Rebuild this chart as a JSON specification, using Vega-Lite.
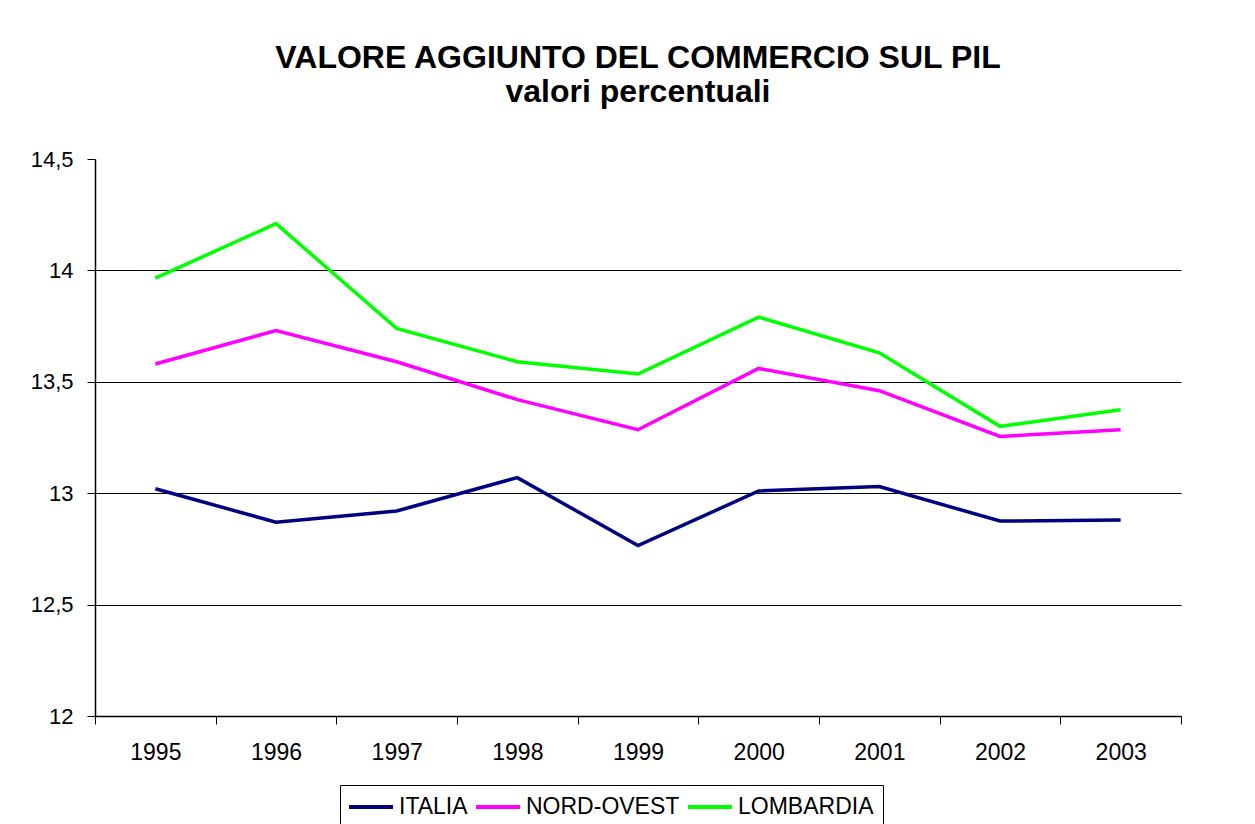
{
  "$schema": "https://vega.github.io/schema/vega-lite/v6.json",
  "width": 1086,
  "height": 557,
  "autosize": {"type": "none"},
  "padding": {"left": 95, "top": 159, "right": 74, "bottom": 108},
  "background": "white",
  "title": {
    "text": ["VALORE AGGIUNTO DEL COMMERCIO SUL PIL", "valori percentuali"],
    "font": "Liberation Sans",
    "fontSize": 32,
    "fontWeight": "bold",
    "color": "black",
    "anchor": "middle",
    "lineHeight": 34,
    "offset": 39
  },
  "data": {
    "values": [
      {"anno": "1995", "serie": "ITALIA", "valore": 13.02},
      {"anno": "1996", "serie": "ITALIA", "valore": 12.87},
      {"anno": "1997", "serie": "ITALIA", "valore": 12.92},
      {"anno": "1998", "serie": "ITALIA", "valore": 13.07},
      {"anno": "1999", "serie": "ITALIA", "valore": 12.765},
      {"anno": "2000", "serie": "ITALIA", "valore": 13.01},
      {"anno": "2001", "serie": "ITALIA", "valore": 13.03},
      {"anno": "2002", "serie": "ITALIA", "valore": 12.875},
      {"anno": "2003", "serie": "ITALIA", "valore": 12.88},
      {"anno": "1995", "serie": "NORD-OVEST", "valore": 13.58},
      {"anno": "1996", "serie": "NORD-OVEST", "valore": 13.73},
      {"anno": "1997", "serie": "NORD-OVEST", "valore": 13.59},
      {"anno": "1998", "serie": "NORD-OVEST", "valore": 13.42},
      {"anno": "1999", "serie": "NORD-OVEST", "valore": 13.285},
      {"anno": "2000", "serie": "NORD-OVEST", "valore": 13.56},
      {"anno": "2001", "serie": "NORD-OVEST", "valore": 13.46},
      {"anno": "2002", "serie": "NORD-OVEST", "valore": 13.255},
      {"anno": "2003", "serie": "NORD-OVEST", "valore": 13.285},
      {"anno": "1995", "serie": "LOMBARDIA", "valore": 13.965},
      {"anno": "1996", "serie": "LOMBARDIA", "valore": 14.21},
      {"anno": "1997", "serie": "LOMBARDIA", "valore": 13.74},
      {"anno": "1998", "serie": "LOMBARDIA", "valore": 13.59},
      {"anno": "1999", "serie": "LOMBARDIA", "valore": 13.535},
      {"anno": "2000", "serie": "LOMBARDIA", "valore": 13.79},
      {"anno": "2001", "serie": "LOMBARDIA", "valore": 13.63},
      {"anno": "2002", "serie": "LOMBARDIA", "valore": 13.30},
      {"anno": "2003", "serie": "LOMBARDIA", "valore": 13.375}
    ]
  },
  "mark": {"type": "line", "strokeWidth": 3.5, "strokeJoin": "miter"},
  "encoding": {
    "x": {
      "field": "anno",
      "type": "ordinal",
      "bandPosition": 0.5,
      "scale": {"type": "band", "paddingInner": 0, "paddingOuter": 0},
      "axis": {
        "title": null,
        "labelAngle": 0,
        "tickBand": "extent",
        "tickSize": 8,
        "tickColor": "black",
        "domainColor": "black",
        "domainWidth": 1.5,
        "labelFont": "Liberation Sans",
        "labelFontSize": 23,
        "labelColor": "black",
        "labelPadding": 17,
        "grid": false
      }
    },
    "y": {
      "field": "valore",
      "type": "quantitative",
      "scale": {"domain": [12, 14.5], "nice": false, "zero": false},
      "axis": {
        "title": null,
        "values": [12, 12.5, 13, 13.5, 14, 14.5],
        "labelExpr": "replace(format(datum.value, '~g'), '.', ',')",
        "tickSize": 8,
        "tickColor": "black",
        "domainColor": "black",
        "domainWidth": 1.5,
        "labelFont": "Liberation Sans",
        "labelFontSize": 22,
        "labelColor": "black",
        "labelPadding": 14,
        "grid": true,
        "gridColor": "black",
        "gridWidth": 1.2,
        "gridOpacity": {"condition": {"test": "datum.value == 14.5 || datum.value == 12", "value": 0}, "value": 1}
      }
    },
    "color": {
      "field": "serie",
      "type": "nominal",
      "sort": ["ITALIA", "NORD-OVEST", "LOMBARDIA"],
      "scale": {"domain": ["ITALIA", "NORD-OVEST", "LOMBARDIA"], "range": ["#000080", "#FF00FF", "#00FF00"]},
      "legend": {
        "title": null,
        "orient": "none",
        "legendX": 245,
        "legendY": 626,
        "direction": "horizontal",
        "columns": 3,
        "symbolType": "M-2,0H2",
        "symbolSize": 484,
        "symbolStrokeWidth": 4,
        "symbolOffset": 9,
        "labelFont": "Liberation Sans",
        "labelFontSize": 23,
        "labelColor": "black",
        "labelOffset": 15,
        "columnPadding": 0,
        "strokeColor": "black",
        "padding": 9
      }
    }
  },
  "config": {
    "view": {"stroke": null}
  }
}
